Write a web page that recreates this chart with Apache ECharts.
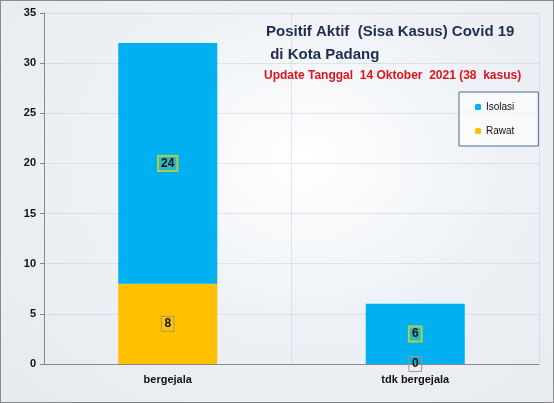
<!DOCTYPE html>
<html>
<head>
<meta charset="utf-8">
<script src="https://cdn.jsdelivr.net/npm/echarts@6/dist/echarts.min.js"></script>
<style>
	html,body{margin:0;padding:0;}
	#chart{width:554px;height:403px;box-sizing:border-box;border:1px solid #8a8a8a;
		background:radial-gradient(ellipse at 55% 40%, #ffffff 0%, #eef2f6 45%, #e6e9ee 100%);}
</style>
</head>
<body>
<div id="chart"></div>
<script>
var categories = ['bergejala', 'tdk bergejala'];
var rawatValues = [8, 0];
var isolasiValues = [24, 6];
var yTicks = [0, 5, 10, 15, 20, 25, 30, 35];

var chart = echarts.init(document.getElementById('chart'));
var labelStyle = {
	show: true,
	position: 'inside',
	color: '#111',
	fontSize: 12,
	fontWeight: 'bold',
	fontFamily: 'Liberation Sans',
	padding: [2, 3, 1, 3],
	borderWidth: 1
};
var option = {
	animation: false,
	title: [{
		text: 'Positif Aktif  (Sisa Kasus) Covid 19\n di Kota Padang',
		left: 260, top: 14,
		textStyle: {color: '#1f2d4e', fontSize: 15, fontWeight: 'bold', fontFamily: 'Liberation Sans', lineHeight: 23}
	}, {
		text: 'Update Tanggal  14 Oktober  2021 (38  kasus)',
		left: 258, top: 64,
		textStyle: {color: '#e0141c', fontSize: 12, fontWeight: 'bold', fontFamily: 'Liberation Sans'}
	}],
	legend: {
		orient: 'vertical',
		left: 458, top: 91,
		width: 82, height: 48,
		padding: [10, 24, 10, 16],
		itemGap: 14,
		itemWidth: 6, itemHeight: 6,
		borderColor: '#4a6a9a', borderWidth: 1,
		backgroundColor: 'rgba(255,255,255,0.6)',
		textStyle: {fontSize: 10, color: '#111', fontFamily: 'Liberation Sans'},
		data: ['Isolasi', 'Rawat']
	},
	grid: {left: 43, right: 14, top: 12, bottom: 38},
	xAxis: {
		type: 'category',
		data: categories,
		axisLine: {lineStyle: {color: '#888'}},
		axisTick: {show: false},
		splitLine: {show: true, lineStyle: {color: 'rgba(180,190,200,0.35)'}},
		axisLabel: {color: '#111', fontSize: 11, fontWeight: 'bold', fontFamily: 'Liberation Sans', margin: 10}
	},
	yAxis: {
		type: 'value',
		min: yTicks[0], max: yTicks[yTicks.length - 1], interval: 5,
		axisLine: {show: true, lineStyle: {color: '#888'}},
		axisTick: {show: true, length: 4, lineStyle: {color: '#888'}},
		splitLine: {show: true, lineStyle: {color: 'rgba(180,190,200,0.35)'}},
		axisLabel: {color: '#111', fontSize: 11, fontWeight: 'bold', fontFamily: 'Liberation Sans'}
	},
	series: [{
		name: 'Rawat',
		type: 'bar',
		stack: 'total',
		barWidth: '40%',
		itemStyle: {color: '#ffc000'},
		label: Object.assign({}, labelStyle, {borderColor: '#a89a70'}),
		data: rawatValues
	}, {
		name: 'Isolasi',
		type: 'bar',
		stack: 'total',
		barWidth: '40%',
		itemStyle: {color: '#00b0f0'},
		label: Object.assign({}, labelStyle, {borderColor: '#b8d040', backgroundColor: 'rgba(120,200,120,0.35)'}),
		data: isolasiValues
	}]
};
chart.setOption(option);
</script>
</body>
</html>
